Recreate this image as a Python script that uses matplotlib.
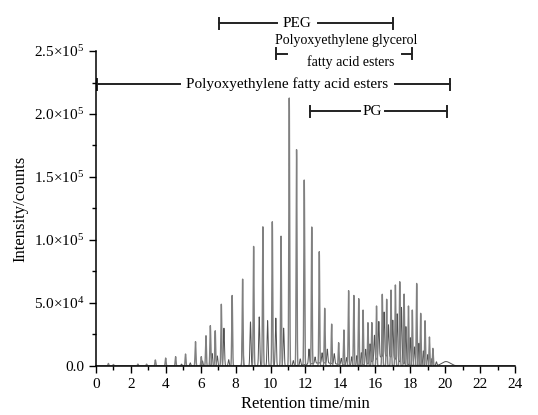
import numpy as np
import matplotlib.pyplot as plt
from matplotlib.ticker import MultipleLocator

plt.rcParams['font.family'] = ['Liberation Serif', 'DejaVu Serif']
plt.rcParams['mathtext.fontset'] = 'custom'
plt.rcParams['mathtext.rm'] = 'Liberation Serif'
plt.rcParams['mathtext.it'] = 'Liberation Serif'

# main (light) trace: peak retention times (min) and heights (counts)
main_rt = [0.71, 1.0, 2.4, 2.9, 3.4, 3.99, 4.56, 5.13, 5.7, 6.03, 6.3, 6.55, 6.83,
           7.18, 7.8, 8.4, 9.03, 9.56, 10.1, 10.6, 11.07, 11.49, 11.93, 12.36,
           12.79, 13.1, 13.5, 13.9, 14.2, 14.47, 14.77, 15.05, 15.3, 15.58, 15.8,
           16.07, 16.4, 16.65, 16.9, 17.15, 17.4, 17.65, 17.9, 18.12, 18.37, 18.6,
           18.85, 19.1, 19.3]
main_h = [2e3, 1.2e3, 1.5e3, 1.5e3, 4.8e3, 6.3e3, 7.4e3, 9.5e3, 1.93e4, 7.4e3,
          2.4e4, 3.2e4, 2.8e4, 4.9e4, 5.6e4, 6.9e4, 9.5e4, 1.105e5, 1.145e5,
          1.03e5, 2.13e5, 1.72e5, 1.476e5, 1.105e5, 9.07e4, 4.58e4, 3.33e4,
          1.85e4, 2.86e4, 5.98e4, 5.6e4, 5.34e4, 4.44e4, 3.44e4, 3.44e4, 4.76e4,
          5.69e4, 5.3e4, 6.03e4, 6.43e4, 6.69e4, 5.71e4, 4.76e4, 4.44e4, 6.56e4,
          4.18e4, 3.6e4, 2.3e4, 1.4e4]

# second (dark) trace
dark_rt = [4.9, 5.4, 6.1, 6.65, 6.95, 7.33, 7.6, 8.4, 8.85, 9.35, 9.83, 10.3,
           10.75, 11.3, 11.7, 12.2, 12.55, 12.95, 13.25, 13.65, 14.05, 14.35,
           14.65, 14.95, 15.2, 15.45, 15.7, 15.95, 16.2, 16.5, 16.75, 17.0, 17.25,
           17.5, 17.75, 18.0, 18.25, 18.5, 18.75, 19.0, 19.25, 19.5]
dark_h = [1.5e3, 2.5e3, 4e3, 1e4, 8e3, 3.0e4, 5e3, 2.8e4, 3.5e4, 3.9e4, 3.6e4,
          3.8e4, 3.0e4, 4e3, 5e3, 1.2e4, 5e3, 8e3, 1.1e4, 8e3, 5e3, 6e3, 7e3, 8e3,
          1e4, 1.2e4, 1.5e4, 2.0e4, 2.9e4, 3.5e4, 2.5e4, 3.0e4, 3.7e4, 4.4e4,
          3.0e4, 2.2e4, 1.5e4, 1.8e4, 1.2e4, 9e3, 6e3, 3e3]
# broad humps in dark trace: centre, height, width
hump_rt = [13.0, 16.6, 20.05]
hump_h = [2.5e3, 8e3, 3.5e3]
hump_w = [0.8, 0.6, 0.25]

yticks = [0, 5e4, 1e5, 1.5e5, 2e5, 2.5e5]
ytick_labels = ['0.0', r'$\mathrm{5.0{\times}10^4}$', r'$\mathrm{1.0{\times}10^5}$',
                r'$\mathrm{1.5{\times}10^5}$', r'$\mathrm{2.0{\times}10^5}$',
                r'$\mathrm{2.5{\times}10^5}$']

# brackets: label, x start, x end, y, gap start, gap end
brackets = [
    ('PEG', 7.03, 17.03, 2.72e5, 10.35, 12.73),
    ('Polyoxyethylene fatty acid esters', 0.04, 20.27, 2.235e5, 4.81, 17.12),
    ('PG', 12.26, 20.09, 2.02e5, 15.12, 16.55),
]


def trace(t, rts, hs, w):
    y = np.zeros_like(t)
    for r, h in zip(rts, hs):
        y += h * np.exp(-0.5 * ((t - r) / w) ** 2)
    return y


t = np.linspace(0, 24, 8000)
y_main = trace(t, main_rt, main_h, 0.024)
y_dark = trace(t, dark_rt, dark_h, 0.03)
for r, h, w in zip(hump_rt, hump_h, hump_w):
    y_dark += h * np.exp(-0.5 * ((t - r) / w) ** 2)

fig = plt.figure(figsize=(5.38, 4.15), dpi=100)
ax = fig.add_axes([0.1784, 0.1181, 0.7788, 0.759])

ax.plot(t, y_dark, color='#505050', lw=0.7)
ax.plot(t, y_main, color='#808080', lw=1.0)

ax.set_xlim(0, 24)
ax.set_ylim(0, 2.5e5)
ax.spines['top'].set_visible(False)
ax.spines['right'].set_visible(False)
ax.xaxis.set_major_locator(MultipleLocator(2))
ax.xaxis.set_minor_locator(MultipleLocator(1))
ax.set_yticks(yticks)
ax.set_yticklabels(ytick_labels)
ax.yaxis.set_minor_locator(MultipleLocator(2.5e4))
ax.tick_params(which='major', direction='out', length=5, width=1, labelsize=11)
ax.tick_params(which='minor', direction='out', length=3, width=1)
for s in ['left', 'bottom']:
    ax.spines[s].set_linewidth(1.1)

ax.set_xlabel('Retention time/min', fontsize=12, labelpad=4)
ax.set_ylabel('Intensity/counts', fontsize=12, labelpad=4)

cap = 4500
for label, x0, x1, yb, g0, g1 in brackets:
    ax.plot([x0, g0], [yb, yb], color='#222222', lw=1.4, clip_on=False)
    ax.plot([g1, x1], [yb, yb], color='#222222', lw=1.4, clip_on=False)
    ax.plot([x0, x0], [yb - cap, yb + cap], color='#222222', lw=1.4, clip_on=False)
    ax.plot([x1, x1], [yb - cap, yb + cap], color='#222222', lw=1.4, clip_on=False)
    ax.text((g0 + g1) / 2, yb, label, ha='center', va='center', fontsize=11,
            clip_on=False)

# glycerol esters bracket, two-line label
gx0, gx1, gy = 10.29, 18.12, 2.48e5
ax.plot([gx0, 10.95], [gy, gy], color='#222222', lw=1.4, clip_on=False)
ax.plot([17.53, gx1], [gy, gy], color='#222222', lw=1.4, clip_on=False)
ax.plot([gx0, gx0], [gy - cap, gy + cap], color='#222222', lw=1.4, clip_on=False)
ax.plot([gx1, gx1], [gy - cap, gy + cap], color='#222222', lw=1.4, clip_on=False)
ax.text(14.36, 2.58e5, 'Polyoxyethylene glycerol', ha='center', va='center',
        fontsize=10, clip_on=False)
ax.text(14.59, 2.41e5, 'fatty acid esters', ha='center', va='center',
        fontsize=10, clip_on=False)

fig.savefig('out.png', dpi=100)
